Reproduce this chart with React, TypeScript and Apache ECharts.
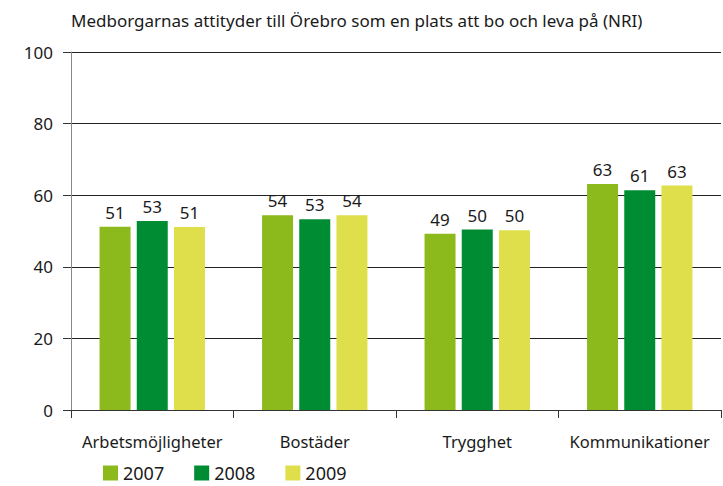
import React, { useEffect, useRef } from "react";
import * as echarts from "echarts";

const categories = ["Arbetsmöjligheter", "Bostäder", "Trygghet", "Kommunikationer"];
const seriesNames = ["2007", "2008", "2009"];
const values2007 = [51.2, 54.4, 49.2, 63.1];
const values2008 = [52.8, 53.3, 50.4, 61.4];
const values2009 = [51.1, 54.4, 50.2, 62.7];
const colors = ["#8cba1c", "#008c32", "#dedf4a"];
const titleText = "Medborgarnas attityder till Örebro som en plats att bo och leva på (NRI)";

const FONT = "'Noto Sans', sans-serif";

export default function App() {
  const ref = useRef<HTMLDivElement>(null);
  useEffect(() => {
    if (!ref.current) return;
    const chart = echarts.init(ref.current, null, { renderer: "svg" });
    const data = [values2007, values2008, values2009];
    chart.setOption({
      animation: false,
      title: {
        text: titleText,
        left: 66,
        top: 7,
        textStyle: { fontFamily: FONT, fontSize: 17, fontWeight: "normal", color: "#1a1a1a" },
      },
      legend: {
        data: seriesNames,
        left: 98,
        top: 458,
        itemWidth: 15,
        itemHeight: 15,
        itemGap: 30,
        icon: "rect",
        textStyle: { fontFamily: FONT, fontSize: 18, color: "#1a1a1a", lineHeight: 20 },
      },
      grid: { left: 71, right: 2, top: 52, bottom: 76 },
      xAxis: {
        type: "category",
        data: categories,
        axisLine: { lineStyle: { color: "#333", width: 1 } },
        axisTick: { show: true, length: 8, lineStyle: { color: "#333" } },
        axisLabel: { fontFamily: FONT, fontSize: 16.5, color: "#1a1a1a", margin: 23, interval: 0 },
      },
      yAxis: {
        type: "value",
        min: 0,
        max: 100,
        interval: 20,
        axisLine: { show: true, lineStyle: { color: "#888", width: 1 } },
        axisTick: { show: true, length: 8, lineStyle: { color: "#333" } },
        axisLabel: { fontFamily: FONT, fontSize: 17, color: "#1a1a1a", margin: 18 },
        splitLine: { show: true, lineStyle: { color: "#222", width: 1 } },
      },
      series: seriesNames.map((name, i) => ({
        name,
        type: "bar",
        data: data[i],
        barWidth: 31,
        barGap: "20%",
        itemStyle: { color: colors[i] },
        label: {
          show: true,
          position: "top",
          distance: 6,
          fontFamily: FONT,
          fontSize: 17,
          color: "#1a1a1a",
          formatter: (p: any) => String(Math.round(p.value)),
        },
      })),
    });
    return () => chart.dispose();
  }, []);
  return (
    <div
      ref={ref}
      style={{ position: "absolute", left: 0, top: 0, width: 723, height: 486, background: "#fff" }}
    />
  );
}
